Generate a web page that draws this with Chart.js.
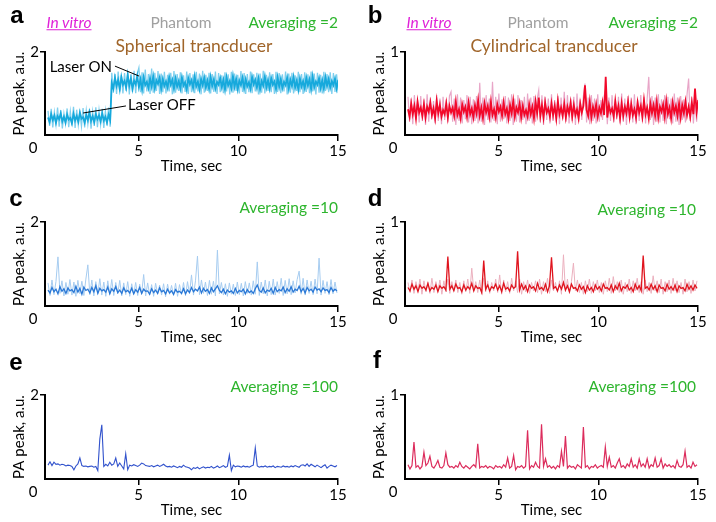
<!DOCTYPE html>
<html><head><meta charset="utf-8">
<script src="https://cdn.jsdelivr.net/npm/chart.js@4.4.0/dist/chart.umd.min.js"></script>
<style>
html,body{margin:0;padding:0;background:#fff;}
#wrap{position:relative;width:716px;height:522px;overflow:hidden;font-family:Lato,"Open Sans",sans-serif;}
canvas{position:absolute;left:0;top:0;}
.t{position:absolute;white-space:nowrap;line-height:1;font-size:15.5px;transform:translate(-50%,-50%);}
.r{transform:translate(-100%,-50%);}
.L{font-weight:bold;font-size:24px;color:#000;font-family:"Liberation Sans",Arial,sans-serif;}
.iv{color:#E020D8;font-style:italic;text-decoration:underline;}
.ph{color:#A0A0A0;}
.av{color:#2DB52D;}
.sub{color:#A0652A;font-size:17.5px;}
</style></head><body><div id="wrap">
<canvas id="ca" width="716" height="522"></canvas>
<canvas id="cb" width="716" height="522"></canvas>
<canvas id="cc" width="716" height="522"></canvas>
<canvas id="cd" width="716" height="522"></canvas>
<canvas id="ce" width="716" height="522"></canvas>
<canvas id="cf" width="716" height="522"></canvas>

<div class="t L" style="left:17px;top:15px">a</div>
<div class="t iv" style="left:69px;top:23px">In vitro</div>
<div class="t ph" style="left:181px;top:23px">Phantom</div>
<div class="t av r" style="left:338px;top:23px">Averaging =2</div>
<div class="t sub" style="left:194px;top:46px">Spherical trancducer</div>

<div class="t L" style="left:375px;top:15px">b</div>
<div class="t iv" style="left:429px;top:23px">In vitro</div>
<div class="t ph" style="left:538px;top:23px">Phantom</div>
<div class="t av r" style="left:698px;top:23px">Averaging =2</div>
<div class="t sub" style="left:554px;top:46px">Cylindrical trancducer</div>

<div class="t L" style="left:16px;top:198px">c</div>
<div class="t av r" style="left:338px;top:208px">Averaging =10</div>
<div class="t L" style="left:375px;top:198px">d</div>
<div class="t av r" style="left:696px;top:210px">Averaging =10</div>
<div class="t L" style="left:16px;top:362px">e</div>
<div class="t av r" style="left:338px;top:387px">Averaging =100</div>
<div class="t L" style="left:377px;top:360px">f</div>
<div class="t av r" style="left:696px;top:387px">Averaging =100</div>
</div>
<script>
// ---------------- data ----------------
const xTicks = [5, 10, 15];
const xMin = 0.3, xMax = 15;
const tStart = 0.45;        // first sample time, sec
const dtAv2 = 0.08;         // sample spacing of the averaging=2 traces
const dtAv10 = 0.1;         // sample spacing of averaging=10 / 100 traces
const yMaxSph = 2, yMaxCyl = 1;

// (a) spherical, averaging 2 — core trace and light envelope
const aCore = [0.42,0.31,0.50,0.36,0.47,0.29,0.45,0.38,0.52,0.33,0.44,0.30,0.49,0.37,0.41,0.28,0.51,0.35,0.46,0.32,0.54,0.39,0.43,0.30,0.48,0.36,0.55,0.34,0.45,0.31,0.50,0.38,0.47,0.33,0.52,0.35,0.44,0.30,0.49,0.36,
1.25,1.12,1.38,1.18,1.33,1.10,1.40,1.21,1.30,1.14,1.45,1.19,1.36,1.11,1.31,1.22,1.42,1.15,1.34,1.09,1.39,1.20,1.28,1.13,1.37,1.17,1.41,1.12,1.32,1.23,1.38,1.10,1.35,1.18,1.29,1.14,1.40,1.21,1.33,1.11,
1.36,1.16,1.30,1.12,1.39,1.19,1.27,1.09,1.37,1.22,1.32,1.13,1.41,1.17,1.29,1.10,1.35,1.20,1.38,1.14,1.31,1.11,1.40,1.18,1.34,1.12,1.28,1.21,1.37,1.15,1.33,1.09,1.39,1.19,1.30,1.13,1.42,1.16,1.35,1.10,
1.31,1.20,1.38,1.12,1.34,1.17,1.27,1.11,1.40,1.22,1.33,1.14,1.36,1.09,1.30,1.19,1.41,1.15,1.32,1.12,1.37,1.21,1.29,1.10,1.39,1.16,1.35,1.13,1.28,1.20,1.38,1.11,1.33,1.18,1.40,1.14,1.31,1.09,1.36,1.17,
1.30,1.12,1.38,1.19,1.34,1.10,1.41,1.15,1.29,1.21,1.37,1.13,1.32,1.11,1.39,1.18,1.35,1.14,1.30,1.20,1.36,1.12,1.33];
const aEnv = [0.58,0.22,0.63,0.18,0.55,0.25,0.66,0.20,0.60,0.16,0.52,0.27,0.64,0.19,0.57,0.23,0.68,0.17,0.61,0.24,0.54,0.21,0.65,0.18,0.59,0.26,0.62,0.15,0.56,0.22,0.67,0.19,0.60,0.25,0.63,0.17,0.58,0.23,0.66,0.20,
1.50,1.02,1.47,0.99,1.53,1.05,1.44,1.00,1.49,1.06,1.52,0.98,1.46,1.04,1.55,1.01,1.48,
1.62,1.03,1.51,1.00,1.58,1.05,1.47,0.99,1.60,1.02,1.50,1.06,1.54,
0.99,1.48,1.03,1.52,1.00,1.45,1.05,1.50,0.98,1.54,1.02,1.47,1.06,1.51,1.00,1.44,1.04,1.53,0.99,1.49,
1.03,1.46,1.01,1.52,1.05,1.48,0.98,1.55,1.02,1.45,1.06,1.50,1.00,1.47,1.04,1.53,0.99,1.49,1.03,1.44,
1.01,1.51,1.05,1.46,0.98,1.52,1.02,1.48,1.06,1.45,1.00,1.54,1.04,1.49,0.99,1.47,1.03,1.53,1.01,1.46,
1.05,1.50,0.98,1.48,1.02,1.55,1.00,1.45,1.06,1.51,1.03,1.47,0.99,1.52,1.04,1.49,1.01,1.46,1.05,1.53,
0.98,1.48,1.02,1.50,1.00,1.44,1.06,1.52,1.03,1.47,0.99,1.51,1.04,1.46,1.01,1.53,1.05,1.48,0.98,1.50,
1.02,1.45,1.00,1.52,1.06,1.47,1.03,1.51,0.99,1.49,1.04,1.46,1.01];

// (b) cylindrical, averaging 2
const bCore = [0.31,0.22,0.38,0.25,0.35,0.20,0.40,0.27,0.33,0.23,0.37,0.21,0.34,0.28,0.39,0.24,0.32,0.20,0.41,0.26,
0.36,0.22,0.30,0.25,0.38,0.21,0.35,0.27,0.33,0.23,0.40,0.24,0.31,0.20,0.37,0.28,0.34,0.22,0.39,0.25,
0.32,0.21,0.36,0.26,0.42,0.23,0.33,0.20,0.38,0.27,0.35,0.22,0.40,0.24,0.31,0.21,0.37,0.28,0.34,0.23,
0.39,0.25,0.32,0.20,0.36,0.26,0.41,0.22,0.33,0.27,0.38,0.21,0.35,0.24,0.30,0.22,0.37,0.25,0.34,0.20,
0.40,0.26,0.45,0.23,0.36,0.21,0.39,0.27,0.32,0.22,0.38,0.24,0.35,0.20,0.41,0.25,0.33,0.23,0.37,0.21,
0.34,0.26,0.39,0.22,0.36,0.24,0.31,0.20,0.38,0.27,0.35,0.60,0.30,0.23,0.40,0.21,0.34,0.25,0.37,0.22,
0.33,0.26,0.39,0.24,0.70,0.21,0.36,0.27,0.32,0.22,0.41,0.25,0.35,0.20,0.38,0.23,0.34,0.26,0.40,0.22,
0.37,0.24,0.31,0.21,0.39,0.27,0.35,0.22,0.42,0.25,0.33,0.20,0.38,0.26,0.36,0.23,0.40,0.21,0.34,0.28,
0.37,0.22,0.41,0.25,0.33,0.20,0.39,0.27,0.35,0.23,0.38,0.21,0.36,0.26,0.40,0.24,0.34,0.22,0.39,0.25,
0.56,0.28,0.42];
const bEnv = [0.46,0.16,0.44,0.13,0.48,0.18,0.42,0.15,0.47,0.17,0.43,0.12,0.49,0.16,0.45,0.19,0.41,0.14,0.48,0.17,
0.44,0.13,0.46,0.18,0.43,0.15,0.47,0.52,0.16,0.44,0.12,0.49,0.17,0.45,0.14,0.42,0.19,0.48,0.15,0.46,
0.13,0.43,0.17,0.47,0.14,0.63,0.16,0.45,0.12,0.48,0.18,0.44,0.15,0.64,0.17,0.46,0.13,0.50,0.16,0.43,
0.19,0.47,0.14,0.45,0.17,0.49,0.12,0.44,0.16,0.48,0.15,0.42,0.18,0.46,0.13,0.50,0.17,0.45,0.14,0.47,
0.16,0.43,0.54,0.15,0.48,0.12,0.46,0.18,0.44,0.14,0.49,0.17,0.42,0.15,0.47,0.13,0.45,0.19,0.52,0.16,
0.48,0.14,0.44,0.17,0.46,0.12,0.50,0.16,0.43,0.18,0.47,0.62,0.15,0.45,0.13,0.48,0.17,0.44,0.14,0.49,
0.16,0.42,0.18,0.47,0.55,0.13,0.45,0.17,0.48,0.15,0.43,0.19,0.46,0.14,0.50,0.16,0.44,0.12,0.47,0.18,
0.45,0.15,0.49,0.13,0.43,0.17,0.48,0.16,0.46,0.14,0.44,0.70,0.18,0.47,0.12,0.45,0.16,0.49,0.15,0.43,
0.17,0.48,0.13,0.46,0.19,0.44,0.14,0.50,0.16,0.45,0.12,0.47,0.18,0.43,0.15,0.49,0.68,0.17,0.46,0.14,
0.48,0.16,0.44];

// (c) spherical, averaging 10
const cCore = [0.38,0.31,0.44,0.34,0.40,0.29,0.46,0.35,0.41,0.30,0.43,0.36,0.39,0.32,0.47,0.33,0.42,0.28,0.45,0.37,
0.40,0.31,0.44,0.34,0.48,0.30,0.42,0.36,0.39,0.33,0.45,0.29,0.41,0.35,0.46,0.32,0.38,0.30,0.43,0.34,
0.37,0.31,0.42,0.29,0.39,0.33,0.44,0.30,0.40,0.35,0.36,0.28,0.41,0.32,0.38,0.30,0.43,0.34,0.37,0.29,
0.40,0.31,0.36,0.28,0.39,0.33,0.35,0.30,0.41,0.29,0.38,0.32,0.44,0.34,0.40,0.36,0.45,0.31,0.42,0.35,
0.39,0.30,0.43,0.34,0.41,0.48,0.37,0.32,0.40,0.29,0.38,0.33,0.36,0.30,0.42,0.31,0.37,0.34,0.40,0.29,
0.39,0.32,0.36,0.30,0.41,0.50,0.37,0.33,0.43,0.31,0.38,0.35,0.42,0.30,0.44,0.34,0.39,0.36,0.45,0.32,
0.41,0.35,0.46,0.33,0.40,0.37,0.47,0.34,0.42,0.31,0.44,0.36,0.40,0.33,0.45,0.38,0.41,0.34,0.43,0.37,
0.39,0.32,0.44,0.35,0.40,0.36];
const cEnv = [0.55,0.25,0.62,0.27,0.58,1.17,0.30,0.60,0.24,0.56,0.28,0.63,0.26,0.57,0.23,0.61,0.29,0.59,0.25,0.64,
0.98,0.27,0.62,0.24,0.58,0.30,0.65,0.26,0.57,0.23,0.60,0.28,0.63,0.25,0.56,0.29,0.61,0.24,0.55,0.27,
0.58,0.23,0.53,0.28,0.56,0.25,0.52,0.30,0.75,0.24,0.55,0.27,0.51,0.23,0.54,0.29,0.50,0.26,0.53,0.22,
0.52,0.28,0.49,0.25,0.54,0.23,0.51,0.27,0.56,0.24,0.58,0.29,0.74,0.26,0.60,1.19,0.27,0.62,0.30,0.57,
0.25,0.61,0.28,0.59,0.24,1.33,0.29,0.56,0.26,0.53,0.23,0.55,0.28,0.52,0.25,0.57,0.27,0.54,0.24,0.58,
0.30,0.55,0.26,0.60,0.28,1.05,0.25,0.57,0.29,0.62,0.24,0.59,0.27,0.64,0.26,0.58,0.30,0.66,0.25,0.61,
0.29,0.65,0.27,0.60,0.31,0.63,0.83,0.28,0.66,0.26,0.62,0.30,0.59,0.27,0.64,0.29,1.14,0.26,0.61,0.30,
0.58,0.27,0.63,0.29,0.57,0.31];

// (d) cylindrical, averaging 10
const dCore = [0.22,0.18,0.26,0.20,0.24,0.17,0.25,0.21,0.23,0.19,0.27,0.18,0.22,0.20,0.25,0.17,0.24,0.21,0.23,0.19,
0.59,0.20,0.24,0.18,0.26,0.21,0.22,0.17,0.25,0.19,0.23,0.20,0.27,0.18,0.24,0.21,0.22,0.16,0.54,0.20,
0.25,0.18,0.23,0.21,0.26,0.19,0.24,0.17,0.27,0.20,0.22,0.18,0.25,0.21,0.23,0.65,0.19,0.26,0.20,0.24,
0.17,0.25,0.21,0.23,0.18,0.27,0.20,0.22,0.19,0.26,0.17,0.24,0.58,0.21,0.23,0.18,0.25,0.20,0.28,0.19,
0.24,0.17,0.26,0.21,0.22,0.18,0.25,0.20,0.23,0.16,0.24,0.19,0.22,0.17,0.25,0.20,0.23,0.18,0.26,0.21,
0.22,0.19,0.25,0.17,0.24,0.20,0.27,0.18,0.23,0.21,0.25,0.19,0.22,0.17,0.26,0.20,0.24,0.18,0.60,0.21,
0.23,0.19,0.26,0.20,0.24,0.17,0.25,0.21,0.22,0.18,0.26,0.20,0.23,0.19,0.25,0.17,0.24,0.21,0.22,0.18,
0.26,0.20,0.24,0.19,0.25,0.21];
const dEnv = [0.28,0.16,0.31,0.15,0.29,0.18,0.32,0.14,0.30,0.17,0.28,0.15,0.33,0.16,0.29,0.18,0.31,0.14,0.30,0.17,
0.32,0.15,0.29,0.18,0.31,0.16,0.28,0.14,0.30,0.17,0.32,0.15,0.45,0.18,0.29,0.16,0.31,0.14,0.33,0.17,
0.30,0.15,0.28,0.18,0.32,0.16,0.37,0.14,0.31,0.17,0.29,0.15,0.33,0.18,0.30,0.16,0.32,0.14,0.29,0.17,
0.31,0.15,0.28,0.18,0.30,0.16,0.32,0.14,0.29,0.17,0.33,0.15,0.31,0.18,0.28,0.16,0.30,0.14,0.61,0.17,
0.32,0.15,0.29,0.51,0.18,0.31,0.16,0.28,0.14,0.30,0.17,0.32,0.15,0.29,0.18,0.31,0.16,0.28,0.14,0.30,
0.17,0.33,0.15,0.35,0.18,0.29,0.16,0.31,0.14,0.28,0.17,0.32,0.15,0.30,0.18,0.33,0.16,0.29,0.14,0.31,
0.17,0.28,0.15,0.36,0.18,0.30,0.16,0.32,0.14,0.29,0.17,0.31,0.15,0.33,0.18,0.30,0.16,0.28,0.14,0.32,
0.17,0.29,0.15,0.31,0.18,0.30];

// (e) spherical, averaging 100
const eVals = [0.33,0.41,0.32,0.40,0.35,0.36,0.33,0.35,0.34,0.31,0.33,0.32,0.30,0.22,0.31,0.36,0.50,0.32,0.30,0.31,
0.29,0.30,0.31,0.28,0.30,0.20,0.95,1.29,0.30,0.35,0.31,0.40,0.33,0.36,0.50,0.30,0.38,0.31,0.24,0.60,
0.22,0.33,0.31,0.34,0.32,0.30,0.33,0.38,0.36,0.32,0.31,0.30,0.32,0.29,0.31,0.33,0.30,0.32,0.35,0.31,
0.29,0.30,0.28,0.31,0.29,0.27,0.30,0.28,0.33,0.29,0.28,0.26,0.22,0.27,0.25,0.28,0.24,0.27,0.29,0.26,
0.28,0.27,0.30,0.26,0.28,0.31,0.27,0.29,0.32,0.28,0.30,0.57,0.20,0.33,0.29,0.31,0.30,0.28,0.31,0.29,
0.30,0.28,0.31,0.33,0.74,0.31,0.28,0.30,0.29,0.31,0.28,0.30,0.29,0.31,0.27,0.30,0.29,0.28,0.31,0.29,
0.30,0.28,0.31,0.29,0.32,0.30,0.28,0.33,0.34,0.31,0.36,0.30,0.35,0.32,0.29,0.33,0.30,0.27,0.31,0.34,
0.26,0.30,0.33,0.31,0.29,0.32];

// (f) cylindrical, averaging 100
const fVals = [0.17,0.12,0.16,0.44,0.14,0.16,0.12,0.15,0.32,0.16,0.19,0.27,0.15,0.13,0.17,0.22,0.14,0.13,0.16,0.31,
0.17,0.14,0.15,0.13,0.16,0.14,0.20,0.15,0.13,0.16,0.14,0.12,0.15,0.17,0.14,0.42,0.13,0.15,0.14,0.16,
0.13,0.15,0.14,0.12,0.16,0.14,0.15,0.13,0.17,0.14,0.25,0.13,0.15,0.28,0.11,0.15,0.14,0.16,0.13,0.15,
0.58,0.12,0.16,0.14,0.20,0.15,0.13,0.65,0.15,0.24,0.14,0.16,0.13,0.15,0.12,0.16,0.14,0.33,0.15,0.51,
0.13,0.16,0.14,0.15,0.12,0.17,0.15,0.13,0.62,0.14,0.16,0.12,0.15,0.14,0.17,0.13,0.15,0.16,0.14,0.38,
0.15,0.26,0.14,0.16,0.13,0.19,0.24,0.14,0.16,0.13,0.18,0.15,0.24,0.14,0.17,0.13,0.24,0.15,0.18,0.14,
0.24,0.13,0.17,0.15,0.25,0.14,0.16,0.24,0.13,0.18,0.15,0.17,0.14,0.16,0.13,0.22,0.15,0.14,0.17,0.33,
0.14,0.16,0.13,0.20,0.15,0.17];

// annotation anchors for panel a (data space)
const laserOn  = {text:'Laser ON',  tx:3.66, ty:1.64, lx0:3.81, ly0:1.66, lx1:5.02, ly1:1.42};
const laserOff = {text:'Laser OFF', tx:4.46, ty:0.72, lx0:4.36, ly0:0.70, lx1:2.21, ly1:0.53};

// ---------------- drawing ----------------
const FONT = 'Lato, "Open Sans", sans-serif';
const pts = (vals, dt) => vals.map((v, i) => ({x: +(tStart + i * dt).toFixed(3), y: v}));

const zeroLabel = {
  id: 'zeroLabel',
  afterDraw(chart) {
    const {ctx, chartArea: a} = chart;
    ctx.save();
    ctx.font = '15px ' + FONT;
    ctx.fillStyle = '#000';
    ctx.textAlign = 'center';
    ctx.textBaseline = 'middle';
    ctx.fillText('0', a.left - 12, a.bottom + 13);
    ctx.restore();
  }
};

const laserPlugin = {
  id: 'laser',
  afterDatasetsDraw(chart) {
    const {ctx} = chart, xs = chart.scales.x, ys = chart.scales.y;
    ctx.save();
    ctx.strokeStyle = '#000'; ctx.lineWidth = 1;
    ctx.font = '15px ' + FONT; ctx.fillStyle = '#000'; ctx.textBaseline = 'middle';
    [laserOn, laserOff].forEach((n, k) => {
      ctx.beginPath();
      ctx.moveTo(xs.getPixelForValue(n.lx0), ys.getPixelForValue(n.ly0));
      ctx.lineTo(xs.getPixelForValue(n.lx1), ys.getPixelForValue(n.ly1));
      ctx.stroke();
      ctx.textAlign = k === 0 ? 'right' : 'left';
      ctx.fillText(n.text, xs.getPixelForValue(n.tx), ys.getPixelForValue(n.ty));
    });
    ctx.restore();
  }
};

function panel(id, box, yMax, datasets, extra) {
  const W = 716, H = 522, YW = 45, XH = 40;
  new Chart(document.getElementById(id), {
    type: 'line',
    data: {datasets},
    options: {
      responsive: false, animation: false, events: [],
      layout: {padding: {left: box.L - YW, right: W - box.R, top: box.T, bottom: H - box.B - XH}},
      plugins: {legend: {display: false}, tooltip: {enabled: false}},
      elements: {point: {radius: 0}, line: {tension: 0, borderWidth: 1}},
      scales: {
        x: {
          type: 'linear', min: xMin, max: xMax,
          afterFit(s) { s.height = XH; },
          afterBuildTicks(s) { s.ticks = xTicks.map(v => ({value: v})); },
          grid: {display: true, drawOnChartArea: false, drawTicks: true, tickLength: 6, color: '#000', lineWidth: 1.5},
          border: {display: true, color: '#000', width: 2},
          ticks: {color: '#000', font: {family: FONT, size: 15}, padding: 1, maxRotation: 0, autoSkip: false},
          title: {display: true, text: 'Time, sec', color: '#000', font: {family: FONT, size: 15}, padding: {top: 0, bottom: 0}}
        },
        y: {
          min: 0, max: yMax,
          afterFit(s) { s.width = YW; },
          afterBuildTicks(s) { s.ticks = [{value: yMax}]; },
          grid: {display: true, drawOnChartArea: false, drawTicks: true, tickLength: 5, color: '#000', lineWidth: 1.5},
          border: {display: true, color: '#000', width: 2},
          ticks: {color: '#000', font: {family: FONT, size: 15}, padding: 1},
          title: {display: true, text: 'PA peak, a.u.', color: '#000', font: {family: FONT, size: 15}, padding: {top: 10, bottom: 0}}
        }
      }
    },
    plugins: [zeroLabel].concat(extra || [])
  });
}

const leftCol = {L: 45, R: 338}, rightCol = {L: 405, R: 698};
const rows = [{T: 52, B: 135}, {T: 222, B: 306}, {T: 395, B: 479}];
const box = (c, r) => Object.assign({}, c, r);

panel('ca', box(leftCol, rows[0]), yMaxSph, [
  {data: pts(aCore, dtAv2), borderColor: '#16A9DC', borderWidth: 1.8},
  {data: pts(aEnv, dtAv2), borderColor: '#7ECFEE', borderWidth: 1.3}
], [laserPlugin]);
panel('cb', box(rightCol, rows[0]), yMaxCyl, [
  {data: pts(bCore, dtAv2), borderColor: '#F2082A', borderWidth: 1.8},
  {data: pts(bEnv, dtAv2), borderColor: '#E8A6C8', borderWidth: 1.2}
]);
panel('cc', box(leftCol, rows[1]), yMaxSph, [
  {data: pts(cCore, dtAv10), borderColor: '#2A78D6', borderWidth: 1.3},
  {data: pts(cEnv, dtAv10), borderColor: '#A6CCF0', borderWidth: 1}
]);
panel('cd', box(rightCol, rows[1]), yMaxCyl, [
  {data: pts(dCore, dtAv10), borderColor: '#E0141E', borderWidth: 1.3},
  {data: pts(dEnv, dtAv10), borderColor: '#EBB0BE', borderWidth: 1}
]);
panel('ce', box(leftCol, rows[2]), yMaxSph, [
  {data: pts(eVals, dtAv10), borderColor: '#3152CC', borderWidth: 1.1}
]);
panel('cf', box(rightCol, rows[2]), yMaxCyl, [
  {data: pts(fVals, dtAv10), borderColor: '#DC2C5C', borderWidth: 1.2}
]);
</script>
</body></html>
